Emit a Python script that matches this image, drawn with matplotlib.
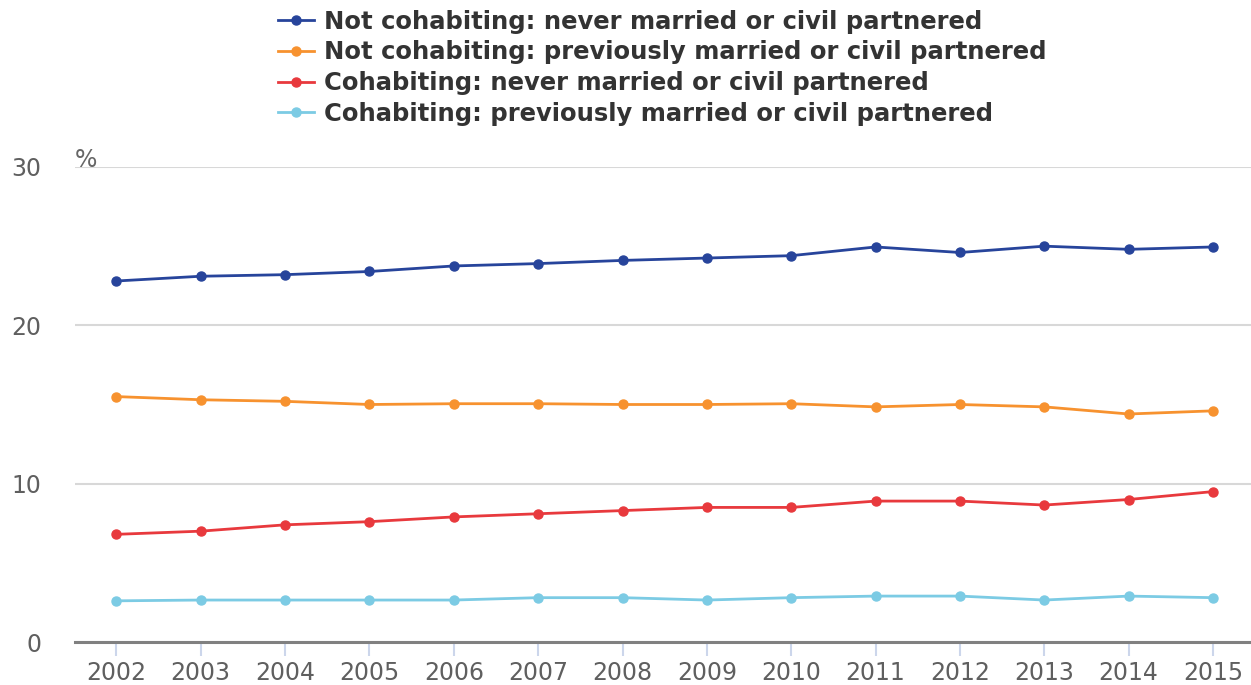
import matplotlib.pyplot as plt
from matplotlib.lines import Line2D

plt.rcParams['font.family'] = ['DejaVu Sans']

years = [str(y) for y in range(2002, 2016)]
not_cohab_never = [22.8, 23.1, 23.2, 23.4, 23.75, 23.9, 24.1, 24.25, 24.4, 24.95, 24.6, 25.0, 24.8, 24.95]
not_cohab_prev = [15.5, 15.3, 15.2, 15.0, 15.05, 15.05, 15.0, 15.0, 15.05, 14.85, 15.0, 14.85, 14.4, 14.6]
cohab_never = [6.8, 7.0, 7.4, 7.6, 7.9, 8.1, 8.3, 8.5, 8.5, 8.9, 8.9, 8.65, 9.0, 9.5]
cohab_prev = [2.6, 2.65, 2.65, 2.65, 2.65, 2.8, 2.8, 2.65, 2.8, 2.9, 2.9, 2.65, 2.9, 2.8]

labels = ["Not cohabiting: never married or civil partnered",
          "Not cohabiting: previously married or civil partnered",
          "Cohabiting: never married or civil partnered",
          "Cohabiting: previously married or civil partnered"]
colors = ["#27449b", "#f7922f", "#e8393d", "#7ccbe4"]
series = [not_cohab_never, not_cohab_prev, cohab_never, cohab_prev]

fig = plt.figure(figsize=(12.51, 6.85), dpi=100)
ax = fig.add_axes([75 / 1251, 43 / 685, 1176 / 1251, 475 / 685])

x = list(range(len(years)))
for vals, c, lab in zip(series, colors, labels):
    ax.plot(x, vals, color=c, lw=2, marker="o", ms=6.5, label=lab, zorder=3)

ax.set_ylim(0, 30)
ax.set_xlim(-0.49, 13.45)
ax.set_yticks([0, 10, 20, 30])
ax.set_xticks(x)
ax.set_xticklabels(years)
ax.grid(axis="y", color="#d8d8d8", lw=1.5)
ax.set_axisbelow(True)
for s in ["top", "right", "left"]:
    ax.spines[s].set_visible(False)
ax.spines["bottom"].set_color("#808080")
ax.spines["bottom"].set_linewidth(2.2)
ax.tick_params(axis="x", colors="#ccd6eb", length=10, width=1.5, labelcolor="#5f5f5f",
               labelsize=17, pad=4)
ax.tick_params(axis="y", length=0, labelcolor="#5f5f5f", labelsize=17, pad=24)
ax.text(0.0, 30.0, "%", fontsize=17, color="#666666", transform=ax.get_yaxis_transform(),
        ha="left", va="baseline")

handles = [Line2D([0], [0], color=c, lw=2, marker="o", ms=6.5) for c in colors]
leg = fig.legend(handles, labels, loc="upper left", bbox_to_anchor=(256 / 1251, 1.018),
                 frameon=False, handlelength=1.5, handletextpad=0.4, labelspacing=0.28,
                 prop={"weight": "bold", "size": 17.5})
for t in leg.get_texts():
    t.set_color("#333333")

fig.savefig("out.png", dpi=100)
